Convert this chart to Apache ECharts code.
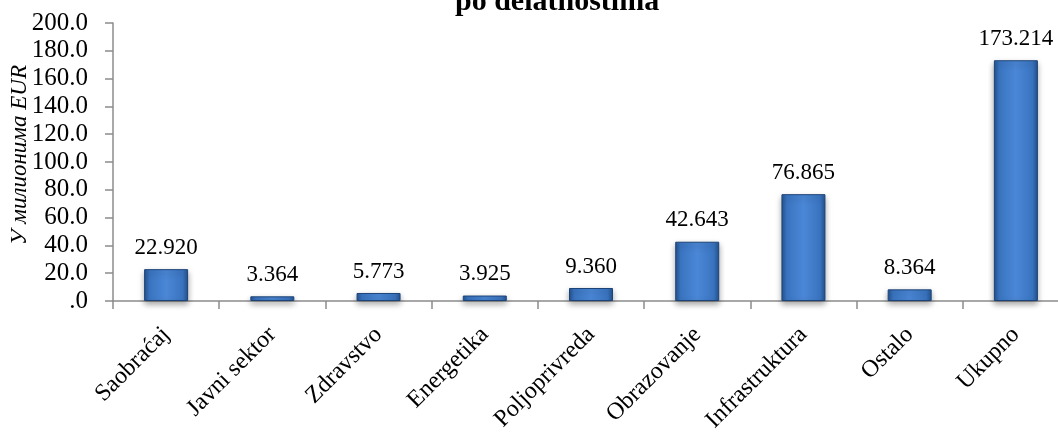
<!DOCTYPE html>
<html><head><meta charset="utf-8">
<script src="https://cdn.jsdelivr.net/npm/echarts@6/dist/echarts.min.js"></script>
<style>html,body{margin:0;padding:0;background:#fff}#c{width:1058px;height:432px}</style>
</head><body><div id="c"></div>
<script>
const categories = ['Saobraćaj','Javni sektor','Zdravstvo','Energetika','Poljoprivreda','Obrazovanje','Infrastruktura','Ostalo','Ukupno'];
const values = [22.920, 3.364, 5.773, 3.925, 9.360, 42.643, 76.865, 8.364, 173.214];
const yTicks = {min: 0, max: 200, interval: 20};
const titleText = 'po delatnostima';
const yName = 'У милионима EUR';

const font = '"Liberation Serif","Times New Roman",serif';
const chart = echarts.init(document.getElementById('c'));
chart.setOption({
  animation: false,
  title: {text: titleText, left: 450, top: -18,
    textStyle: {fontFamily: font, fontWeight: 'bold', fontSize: 30, color: '#000'}},
  grid: {left: 113, width: 956, top: 23, height: 278, containLabel: false, outerBoundsMode: 'none'},
  xAxis: {
    type: 'category', data: categories, boundaryGap: true,
    axisLine: {lineStyle: {color: '#8c8c8c', width: 1.5}},
    axisTick: {show: true, alignWithLabel: false, length: 8, lineStyle: {color: '#8c8c8c', width: 1.5}},
    axisLabel: {rotate: 45, margin: 30, fontFamily: font, fontSize: 24, color: '#000', interval: 0}
  },
  yAxis: {
    type: 'value', min: yTicks.min, max: yTicks.max, interval: yTicks.interval,
    name: yName, nameLocation: 'middle', nameGap: 82, nameRotate: 90, nameMoveOverlap: false,
    nameTextStyle: {fontFamily: font, fontStyle: 'italic', fontSize: 23, color: '#000', padding: [0, 0, 0, 14]},
    axisLine: {show: true, lineStyle: {color: '#8c8c8c', width: 1.5}},
    axisTick: {show: true, length: 8, lineStyle: {color: '#8c8c8c', width: 1.5}},
    splitLine: {show: false},
    axisLabel: {margin: 25, fontFamily: font, fontSize: 25, color: '#000',
      formatter: v => v === 0 ? '.0' : v.toFixed(1)}
  },
  series: [{
    type: 'bar', data: values, barWidth: 44,
    itemStyle: {
      color: new echarts.graphic.LinearGradient(0, 0, 1, 0, [
        {offset: 0, color: '#24528f'}, {offset: 0.12, color: '#3a74c0'},
        {offset: 0.5, color: '#4a87d6'}, {offset: 0.88, color: '#3a74c0'},
        {offset: 1, color: '#24528f'}]),
      borderColor: '#1d4478', borderWidth: 1,
      shadowColor: 'rgba(0,0,0,0.35)', shadowBlur: 6, shadowOffsetY: 3
    },
    label: {show: true, position: 'top', distance: 10, fontFamily: font, fontSize: 23, color: '#000',
      formatter: p => p.value.toFixed(3)}
  }]
});
</script></body></html>
